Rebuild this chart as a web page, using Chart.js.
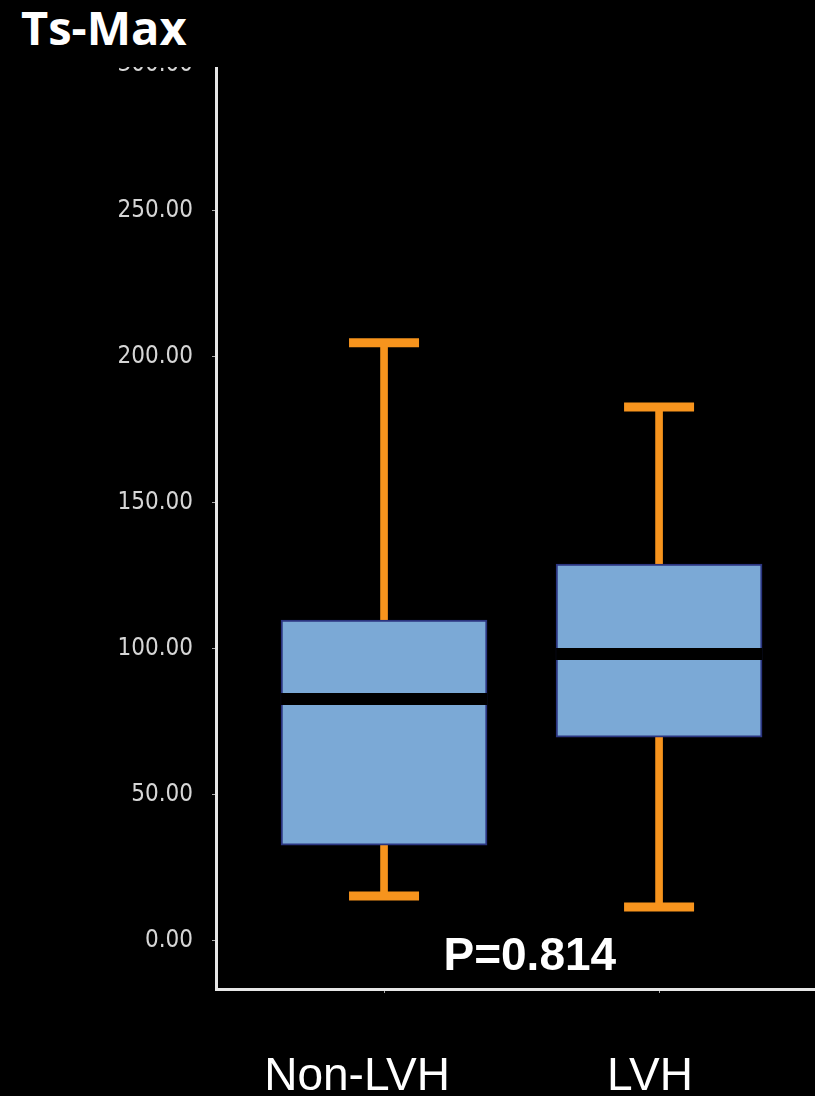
<!DOCTYPE html>
<html>
<head>
<meta charset="utf-8">
<script src="https://cdn.jsdelivr.net/npm/chart.js@4"></script>
<style>
  html, body { margin: 0; padding: 0; background: #000; }
  body { width: 815px; height: 1096px; position: relative; overflow: hidden; }
  #title { position: absolute; left: 21px; top: 4px; color: #fff; font: bold 47px "Open Sans", sans-serif; line-height: 1; }
  #clip { position: absolute; left: 0; top: 67px; width: 815px; height: 1029px; overflow: hidden; }
  #wrap { position: absolute; left: 0; top: -67px; width: 815px; height: 1096px; }
</style>
</head>
<body>
<div id="title">Ts-Max</div>
<div id="clip"><div id="wrap"><canvas id="c"></canvas></div></div>
<script>
// Ts-Max box plot, Non-LVH vs LVH
const groups = ["Non-LVH", "LVH"];
const mins    = [15.3, 11.5];
const q1s     = [32.7, 69.7];
const medians = [82.8, 98.2];
const q3s     = [109.8, 129.0];
const maxs    = [204.8, 182.8];
const yTicks  = [0, 50, 100, 150, 200, 250, 300];
const pText   = "P=0.814";

const ORANGE = "#F7941D", BOX = "#7BA9D6", EDGE = "#2B3580";
// group names sit a little left of their ticks in the original slide
const nameShift = [-0.098, -0.033];

const annotations = {
  id: "annotations",
  afterDraw(chart) {
    const { ctx, scales: { x, y } } = chart;
    ctx.save();
    ctx.fillStyle = "#fff";
    ctx.textAlign = "center";
    ctx.textBaseline = "middle";
    ctx.font = "bold 46px 'Liberation Sans', Arial, sans-serif";
    ctx.fillText(pText, x.getPixelForValue(0.53), y.getPixelForValue(-5.6));
    ctx.font = "46px 'Liberation Sans', Arial, sans-serif";
    ctx.textBaseline = "top";
    groups.forEach((g, i) => ctx.fillText(g, x.getPixelForValue(i + nameShift[i]), x.bottom - 42));
    ctx.restore();
  },
};

new Chart(document.getElementById("c"), {
  type: "bar",
  data: {
    datasets: [
      {
        type: "line", order: 0, showLine: false,
        data: groups.flatMap((g, i) => [{ x: i, y: mins[i] }, { x: i, y: maxs[i] }]),
        pointStyle: "line", pointRadius: 35, pointBorderWidth: 9,
        pointBorderColor: ORANGE, pointBackgroundColor: ORANGE, pointHoverRadius: 35,
      },
      {
        type: "line", order: 1, showLine: false,
        data: groups.map((g, i) => ({ x: i, y: medians[i] })),
        pointStyle: "line", pointRadius: 103, pointBorderWidth: 12,
        pointBorderColor: "#000", pointBackgroundColor: "#000", pointHoverRadius: 103,
      },
      {
        order: 2, grouped: false,
        data: groups.map((g, i) => ({ x: i, y: [q1s[i], q3s[i]] })),
        backgroundColor: BOX, borderColor: EDGE, borderWidth: 2, borderSkipped: false,
        barThickness: 206,
      },
      {
        order: 3, grouped: false,
        data: groups.map((g, i) => ({ x: i, y: [mins[i], maxs[i]] })),
        backgroundColor: ORANGE, borderWidth: 0, barThickness: 7,
      },
    ],
  },
  options: {
    responsive: true, maintainAspectRatio: false, animation: false,
    layout: { autoPadding: false, padding: { top: 65, left: 0, right: 0, bottom: 0 } },
    plugins: { legend: { display: false }, tooltip: { enabled: false }, title: { display: false } },
    scales: {
      x: {
        type: "linear", min: -0.611, max: 1.567, offset: false,
        afterBuildTicks: (s) => { s.ticks = groups.map((g, i) => ({ value: i })); },
        afterFit: (s) => { s.height = 107; s.paddingLeft = 0; s.paddingRight = 0; },
        border: { display: true, color: "#e6e6e6", width: 3 },
        grid: { offset: false, drawOnChartArea: false, drawTicks: true, tickLength: 4, color: "#aaa" },
        ticks: { autoSkip: false, maxRotation: 0, callback: () => "" },
      },
      y: {
        min: -16.6, max: 300,
        afterBuildTicks: (s) => { s.ticks = yTicks.map((v) => ({ value: v })); },
        afterFit: (s) => { s.width = 216; s.paddingTop = 0; s.paddingBottom = 0; },
        border: { display: true, color: "#e6e6e6", width: 3 },
        grid: { drawOnChartArea: false, drawTicks: true, tickLength: 4, color: "#aaa" },
        ticks: {
          padding: 19, color: "#d6d6d6",
          font: { family: "'Liberation Sans Narrow', 'DejaVu Sans Condensed', sans-serif", size: 24 },
          callback: (v) => v.toFixed(2),
        },
      },
    },
  },
  plugins: [annotations],
});
</script>
</body>
</html>
